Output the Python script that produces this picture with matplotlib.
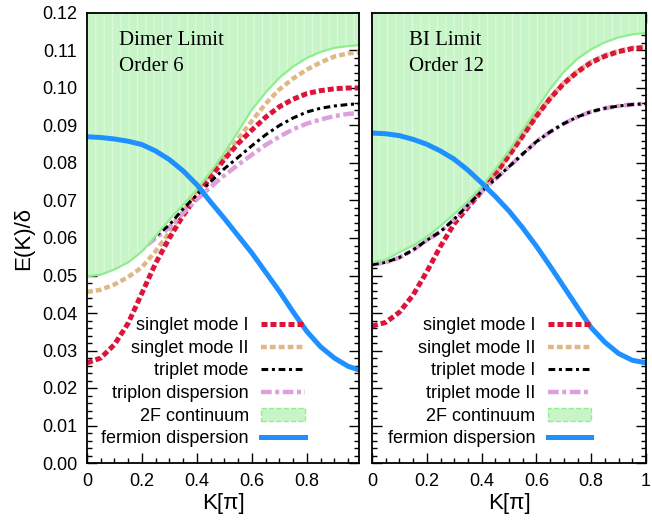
import numpy as np
import matplotlib
matplotlib.use("Agg")
import matplotlib.pyplot as plt
from matplotlib.patches import Patch
from matplotlib.ticker import MultipleLocator, FuncFormatter

# -------------------------
# DATA
# -------------------------
k_left = [0, .05, .1, .15, .2, .25, .3, .35, .4, .45, .5, .55, .6, .65, .7,
          .75, .8, .85, .9, .95, .99]

fermion_left = [.0870, .0868, .0864, .0858, .0849, .0832, .0809, .0779, .0742,
                .0696, .0652, .0606, .0560, .0509, .0458, .0403, .0351, .0310,
                .0280, .0258, .0248]
cont_left = [.0498, .0502, .0516, .0535, .0564, .0605, .0649, .0689, .0729,
             .0776, .0827, .0884, .0942, .0988, .1027, .1057, .1080, .1096,
             .1107, .1112, .1114]
singlet1_left = [.0267, .0280, .0316, .0373, .0453, .0533, .0600, .0660, .0712,
                 .0762, .0810, .0852, .0888, .0922, .0950, .0970, .0985, .0993,
                 .0998, .1000, .1000]
singlet2_left = [.0456, .0462, .0476, .0496, .0522, .0565, .0615, .0670, .0725,
                 .0775, .0815, .0865, .0912, .0958, .0996, .1025, .1049, .1068,
                 .1084, .1092, .1095]
triplet_left = [.0525, .0528, .0540, .0555, .0575, .0605, .0635, .0678, .0715,
                .0750, .0785, .0815, .0846, .0875, .0900, .0920, .0936, .0946,
                .0952, .0956, .0958]
triplon_left = [.0520, .0524, .0535, .0550, .0570, .0600, .0628, .0667, .0703,
                .0736, .0767, .0795, .0822, .0848, .0870, .0890, .0905, .0916,
                .0925, .0931, .0933]

k_right = [0, .05, .1, .15, .2, .25, .3, .35, .4, .45, .5, .55, .6, .65, .7,
           .75, .8, .85, .9, .95, 1.0]

fermion_right = [.0880, .0878, .0873, .0863, .0850, .0832, .0810, .0781, .0747,
                 .0711, .0672, .0627, .0578, .0525, .0470, .0415, .0361, .0322,
                 .0292, .0274, .0267]
cont_right = [.0535, .0542, .0562, .0580, .0603, .0632, .0664, .0698, .0737,
              .0783, .0833, .0888, .0943, .0997, .1043, .1078, .1103, .1122,
              .1135, .1143, .1147]
singlet1_right = [.0365, .0375, .0402, .0448, .0510, .0578, .0638, .0682, .0724,
                  .0770, .0820, .0872, .0925, .0972, .1012, .1043, .1068, .1085,
                  .1097, .1105, .1108]
singlet2_right = [.0560, .0566, .0585, .0600, .0625, .0650, .0680, .0705, .0727,
                  .0772, .0822, .0874, .0927, .0974, .1014, .1045, .1070, .1087,
                  .1099, .1107, .1110]
triplet1_right = [.0529, .0535, .0548, .0568, .0594, .0617, .0650, .0688, .0724,
                  .0757, .0790, .0824, .0857, .0883, .0905, .0923, .0937, .0946,
                  .0952, .0956, .0958]
triplet2_right = triplet1_right

labels_left = ["singlet mode I", "singlet mode II", "triplet mode",
               "triplon dispersion", "2F continuum", "fermion dispersion"]
labels_right = ["singlet mode I", "singlet mode II", "triplet mode I",
                "triplet mode II", "2F continuum", "fermion dispersion"]

# -------------------------
# STYLES
# -------------------------
plt.rcParams["font.family"] = ["Liberation Sans", "DejaVu Sans"]
plt.rcParams["hatch.linewidth"] = 0.8

RED = "#dc143c"
TAN = "#deb887"
PINK = "#dda0dd"
BLUE = "#1e90ff"
FILL = "#c8f5c8"
EDGE = "#90ee90"

st_red = dict(color=RED, lw=3.6, ls=(0, (1.2, 0.6)), zorder=2)
st_tan = dict(color=TAN, lw=3.2, ls=(0, (1.3, 0.7)), zorder=2)
st_black = dict(color="black", lw=2.2, ls=(0, (2.2, 1.2, 1.0, 1.2)), zorder=2)
st_pink = dict(color=PINK, lw=3.2, ls=(0, (2.4, 0.8, 0.9, 0.8)), zorder=2)
st_blue = dict(color=BLUE, lw=3.6, ls="-", zorder=4)


def draw_panel(ax, k, s1, s2, t1, t2, cont, ferm, labels, xmax, title, tx):
    l1, = ax.plot(k, s2, **st_tan)
    l0, = ax.plot(k, s1, **st_red)
    l3, = ax.plot(k, t2, **st_pink)
    l2, = ax.plot(k, t1, **st_black)
    ax.fill_between(k, cont, 0.13, facecolor=FILL, edgecolor="#dcfadc",
                    hatch="||", lw=0, zorder=3)
    ax.plot(k, cont, color=EDGE, lw=1.6, zorder=3.5)
    l5, = ax.plot(k, ferm, **st_blue)
    patch = Patch(facecolor=FILL, edgecolor=EDGE, ls="--", lw=1)

    ax.legend([l0, l1, l2, l3, patch, l5], labels, loc="lower right",
              bbox_to_anchor=(0.80, 0.035), markerfirst=False, frameon=False,
              fontsize=13, handlelength=2.4, handletextpad=0.7,
              labelspacing=0.31, borderpad=0, borderaxespad=0)

    ax.text(tx, 0.929, title[0], transform=ax.transAxes, fontsize=15,
            family="Liberation Serif", va="baseline", zorder=6)
    ax.text(tx, 0.871, title[1], transform=ax.transAxes, fontsize=15,
            family="Liberation Serif", va="baseline", zorder=6)

    ax.set_xlim(0, xmax)
    ax.set_ylim(0, 0.12)
    ax.xaxis.set_major_locator(MultipleLocator(0.2))
    ax.xaxis.set_minor_locator(MultipleLocator(0.05))
    ax.xaxis.set_major_formatter(FuncFormatter(lambda v, p: f"{v:g}"))
    ax.yaxis.set_major_locator(MultipleLocator(0.01))
    ax.yaxis.set_minor_locator(MultipleLocator(0.002))
    ax.yaxis.set_major_formatter(FuncFormatter(lambda v, p: f"{v:.2f}"))
    ax.tick_params(which="both", direction="in", top=True, right=True,
                   width=1.0, labelsize=13)
    ax.tick_params(which="major", length=7)
    ax.tick_params(which="minor", length=3.5)
    ax.tick_params(axis="x", pad=7)
    ax.tick_params(axis="y", pad=7)
    for sp in ax.spines.values():
        sp.set_linewidth(1.3)
        sp.set_zorder(7)
    ax.set_xlabel("K[π]", fontsize=16, labelpad=2)


# -------------------------
# FIGURE
# -------------------------
fig = plt.figure(figsize=(6.52, 5.26), dpi=100)
ax1 = fig.add_axes([87 / 652, 1 - 463 / 526, 272 / 652, 450 / 526])
ax2 = fig.add_axes([372 / 652, 1 - 463 / 526, 274 / 652, 450 / 526])

draw_panel(ax1, k_left, singlet1_left, singlet2_left, triplet_left,
           triplon_left, cont_left, fermion_left, labels_left, 0.99,
           ["Dimer Limit", "Order 6"], 0.118)
draw_panel(ax2, k_right, singlet1_right, singlet2_right, triplet1_right,
           triplet2_right, cont_right, fermion_right, labels_right, 1.0,
           ["BI Limit", "Order 12"], 0.135)

ax1.set_ylabel("E(K)/δ", fontsize=16, labelpad=6)
ax2.tick_params(axis="y", labelleft=False)

fig.savefig("out.png", dpi=100)
